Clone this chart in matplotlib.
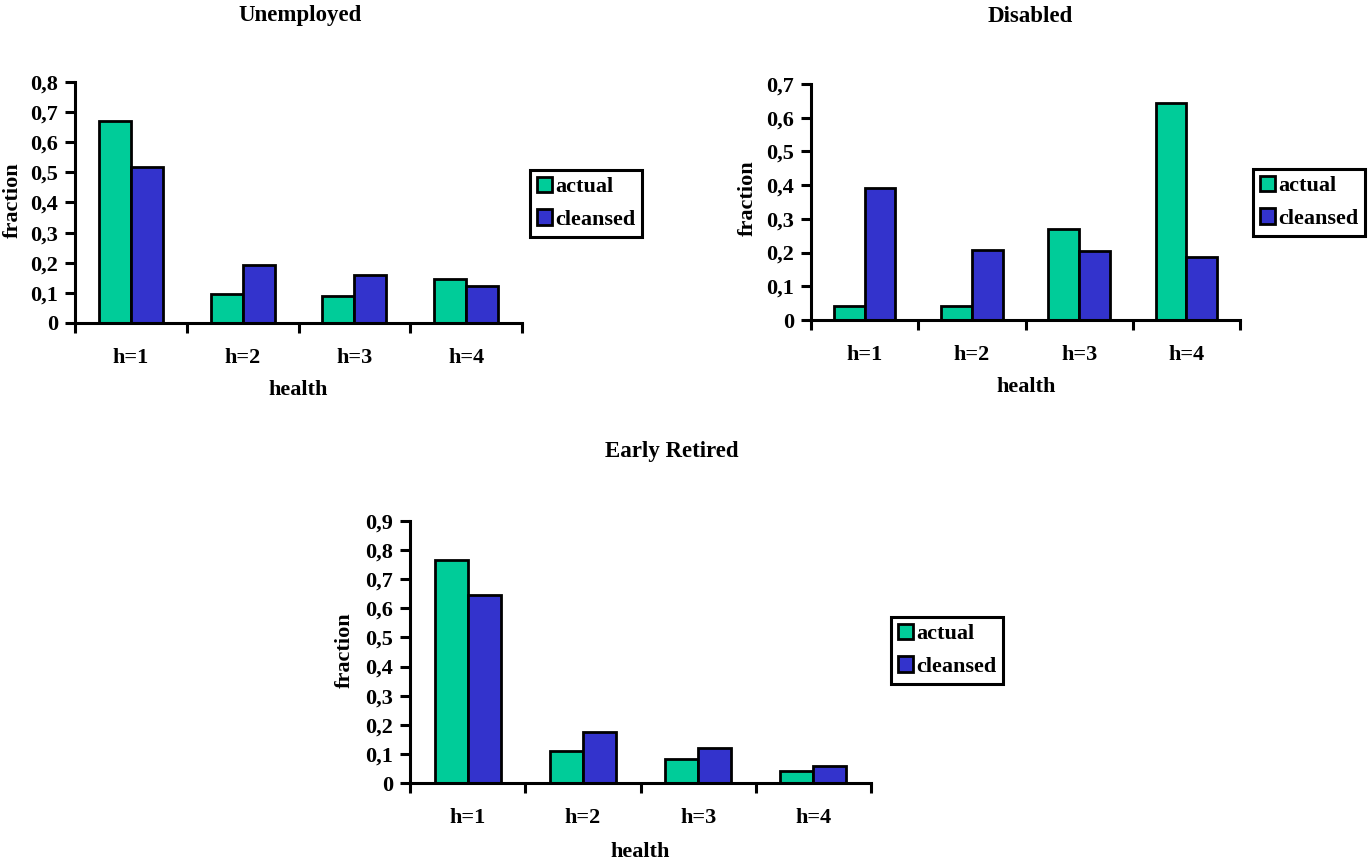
import numpy as np
import matplotlib
matplotlib.use('Agg')
import matplotlib.pyplot as plt
from matplotlib.ticker import FuncFormatter, MultipleLocator, FixedLocator

plt.rcParams['font.family'] = ['Liberation Serif', 'DejaVu Serif']
plt.rcParams['font.weight'] = 'bold'

categories = ['h=1', 'h=2', 'h=3', 'h=4']
series_names = ['actual', 'cleansed']

unemployed_actual = [0.670, 0.095, 0.089, 0.145]
unemployed_cleansed = [0.519, 0.193, 0.160, 0.123]
disabled_actual = [0.043, 0.041, 0.269, 0.645]
disabled_cleansed = [0.392, 0.209, 0.206, 0.187]
early_actual = [0.767, 0.110, 0.082, 0.042]
early_cleansed = [0.645, 0.176, 0.119, 0.059]

C_ACTUAL = '#00CC99'
C_CLEANSED = '#3333CC'
FS = 16

W, H = 1369, 863
fig = plt.figure(figsize=(W / 100, H / 100), dpi=100)


def fx(x):
    return x / W


def fy(y):
    return 1 - y / H


def comma_fmt(v, pos):
    if abs(v) < 1e-9:
        return '0'
    return ('%.1f' % v).replace('.', ',')


def panel(box, actual, cleansed, ymax, title, title_xy, ylab_xy, xlab_xy, leg_xy):
    left, top, right, bottom = box
    ax = fig.add_axes([fx(left), fy(bottom), (right - left) / W, (bottom - top) / H])
    x = np.arange(len(categories))
    w = 1 / 3.5  # gap width 150%
    ax.bar(x - w / 2, actual, w, color=C_ACTUAL, edgecolor='black', linewidth=2.0,
           label=series_names[0], zorder=3)
    ax.bar(x + w / 2, cleansed, w, color=C_CLEANSED, edgecolor='black', linewidth=2.0,
           label=series_names[1], zorder=3)
    ax.set_xlim(-0.5, len(categories) - 0.5)
    ax.set_ylim(0, ymax)
    for s in ['top', 'right']:
        ax.spines[s].set_visible(False)
    for s in ['left', 'bottom']:
        ax.spines[s].set_linewidth(2.2)
        ax.spines[s].set_zorder(4)
    ax.yaxis.set_major_locator(MultipleLocator(0.1))
    ax.yaxis.set_major_formatter(FuncFormatter(comma_fmt))
    ax.tick_params(axis='y', direction='out', length=7, width=2.2, labelsize=FS, pad=5)
    ax.set_xticks(x)
    ax.set_xticklabels(categories)
    ax.xaxis.set_minor_locator(FixedLocator(np.arange(-0.5, len(categories), 1.0)))
    ax.tick_params(axis='x', which='major', length=0, labelsize=FS, pad=18)
    ax.tick_params(axis='x', which='minor', direction='out', length=7, width=2.2)
    for lab in ax.get_xticklabels() + ax.get_yticklabels():
        lab.set_fontweight('bold')

    fig.text(fx(title_xy[0]), fy(title_xy[1]), title, fontsize=FS + 0.5, fontweight='bold',
             ha='center', va='center')
    fig.text(fx(ylab_xy[0]), fy(ylab_xy[1]), 'fraction', fontsize=FS, fontweight='bold',
             ha='center', va='center', rotation=90)
    fig.text(fx(xlab_xy[0]), fy(xlab_xy[1]), 'health', fontsize=FS, fontweight='bold',
             ha='center', va='center')

    leg = ax.legend(loc='upper left', bbox_to_anchor=(fx(leg_xy[0]), fy(leg_xy[1])),
                    bbox_transform=fig.transFigure, frameon=True, fancybox=False,
                    shadow=False, framealpha=1, fontsize=FS, handlelength=0.7,
                    handleheight=0.7, handletextpad=0.15, labelspacing=0.55,
                    borderpad=0.3, borderaxespad=0)
    frame = leg.get_frame()
    frame.set_edgecolor('black')
    frame.set_linewidth(2.2)
    for t in leg.get_texts():
        t.set_fontweight('bold')
    for p in leg.get_patches():
        p.set_linewidth(2.0)
    return ax


panel((75, 82, 522, 323), unemployed_actual, unemployed_cleansed, 0.8, 'Unemployed',
      (300, 16), (13, 200), (298, 390), (530, 170))
panel((811, 84, 1240, 320), disabled_actual, disabled_cleansed, 0.7, 'Disabled',
      (1030, 16), (748, 198), (1026, 387), (1253, 169))
panel((410, 521, 871, 783), early_actual, early_cleansed, 0.9, 'Early Retired',
      (672, 451), (345, 650), (640, 852), (891, 617))

fig.savefig('out.png', dpi=100)
